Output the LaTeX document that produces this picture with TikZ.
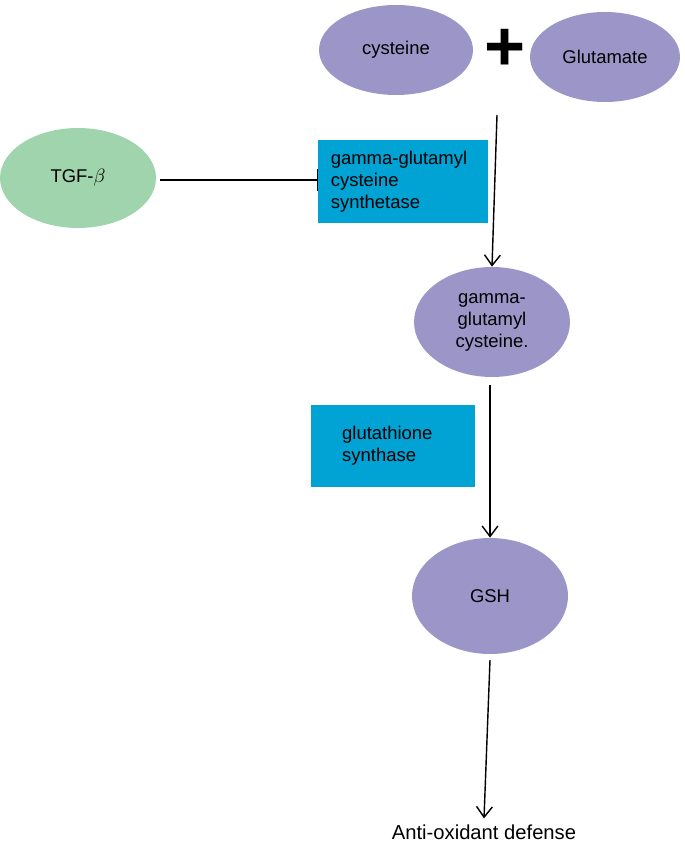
\documentclass[tikz,border=0pt]{standalone}
\usepackage{fontspec}
\setmainfont{Liberation Sans}
\usetikzlibrary{arrows.meta,shapes.geometric}
\definecolor{metab}{RGB}{155,149,200}
\definecolor{enzyme}{RGB}{0,163,212}
\definecolor{factor}{RGB}{160,212,172}
\tikzset{
  metabolite/.style={ellipse, fill=metab, inner sep=0pt, align=center},
  enzymebox/.style={rectangle, fill=enzyme, inner sep=4pt, align=left, anchor=north west},
  flow/.style={thick, -{Straight Barb[length=6pt,width=9pt]}},
}
\begin{document}
\begin{tikzpicture}[x=0.02cm, y=-0.02cm, font=\fontsize{10.5}{12.5}\selectfont]
    \useasboundingbox (0,0) rectangle (685,848);
    % Substrates
    \node[metabolite, minimum width=3.08cm, minimum height=1.8cm] (cys) at (396,50) {cysteine};
    \node[metabolite, minimum width=3cm, minimum height=1.8cm] (glu) at (605,57) {Glutamate};
    \node[font=\fontsize{40}{40}\selectfont\bfseries] (plus) at (505,50) {+};

    % Inhibitor
    \node[metabolite, fill=factor, minimum width=3.12cm, minimum height=2cm] (tgf) at (78,178) {TGF-$\beta$};

    % Enzymes
    \node[enzymebox, minimum width=3.4cm, minimum height=1.66cm, text width=2.9cm] (gcs) at (318,140) {gamma-glutamyl\\cysteine\\synthetase};
    \node[enzymebox, minimum width=3.28cm, minimum height=1.64cm, inner sep=0pt] (gs) at (311,405) {};
    \node[align=left, anchor=north west] (gslabel) at (336,420) {glutathione\\synthase};

    % Products
    \node[metabolite, minimum width=3.12cm, minimum height=2.2cm] (ggc) at (492,322) {gamma-\\glutamyl\\cysteine.};
    \node[metabolite, minimum width=3.12cm, minimum height=2.32cm] (gsh) at (490,596) {GSH};
    \node[font=\fontsize{11.5}{13}\selectfont] (def) at (484,832) {Anti-oxidant defense};

    % Arrows
    \coordinate (s1) at (497,115);
    \draw[flow] (s1) -- (ggc.north);
    \coordinate (s2) at (490,385);
    \draw[flow] (s2) -- (gsh.north);
    \coordinate (s3) at (490,660);
    \draw[flow] (s3) -- (def.north);
    \coordinate (t1) at (160,180);
    \draw[thick, -{Bar[width=12pt]}] (t1) -- (gcs.west |- t1);
\end{tikzpicture}
\end{document}
